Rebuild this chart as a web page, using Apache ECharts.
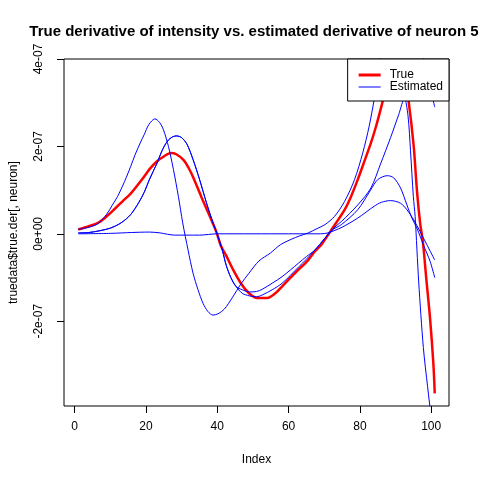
<!DOCTYPE html>
<html>
<head>
<meta charset="utf-8">
<script src="https://cdn.jsdelivr.net/npm/echarts@6/dist/echarts.min.js"></script>
<style>
  html, body { margin: 0; padding: 0; background: #fff; }
  #main { width: 480px; height: 480px; }
</style>
</head>
<body>
<div id="main"></div>
<script>
// values in units of 1e-07
var trueX = [1, 3, 6.5, 9, 11, 13.5, 15.7, 17.5, 19.4, 21, 23.1, 25, 27, 28.5, 30.5, 32, 33.2, 35.5, 37.9, 39.7, 41.1, 42.5, 44.3, 46.6, 48.9, 51.2, 54, 56.3, 58.2, 61.8, 65.5, 67.4, 69.2, 72, 75.7, 77.5, 79.4, 81, 83.1, 84.5, 85.8, 87.5, 89.5, 90.5, 91.8, 93, 93.7, 95.1, 96, 96.9, 97.7, 98.6, 99.7, 100.6, 101];
var trueY = [0.1, 0.15, 0.25, 0.4, 0.55, 0.75, 0.92, 1.1, 1.3, 1.48, 1.66, 1.77, 1.85, 1.82, 1.69, 1.5, 1.3, 0.85, 0.4, 0.05, -0.29, -0.5, -0.8, -1.13, -1.36, -1.47, -1.47, -1.36, -1.2, -0.9, -0.6, -0.4, -0.25, 0.09, 0.55, 0.85, 1.24, 1.6, 2.08, 2.45, 2.84, 3.35, 3.65, 3.71, 3.6, 3.3, 3.02, 2.0, 1.0, 0.25, -0.2, -1.0, -1.95, -2.95, -3.65];

// early-peak estimate
var estAX = [1, 4, 6.5, 9, 10.5, 12, 14, 15.7, 17, 18.5, 19.5, 20.8, 22.5, 23.8, 24.9, 26.3, 27.7, 29.1, 30.3, 31.8, 33.2, 34.6, 36, 37.4, 38.8, 40.2, 42, 44.3, 46.6, 48.9, 51.7, 54.9, 57.7, 60.9, 63, 65.5, 68, 70.2, 72.9, 75.7, 78.5, 80.8, 82.6, 84, 85, 86, 88, 92, 96, 99, 100, 101];
var estAY = [0.1, 0.15, 0.23, 0.45, 0.65, 0.85, 1.2, 1.54, 1.82, 2.1, 2.27, 2.5, 2.63, 2.55, 2.38, 2.0, 1.47, 0.85, 0.25, -0.37, -0.9, -1.28, -1.59, -1.78, -1.86, -1.83, -1.72, -1.45, -1.15, -0.9, -0.62, -0.44, -0.25, -0.12, -0.05, 0.02, 0.12, 0.21, 0.4, 0.74, 1.24, 1.85, 2.46, 3.07, 3.6, 4.2, 5.0, 5.4, 4.6, 3.6, 3.25, 2.9];

// two estimates sharing the same rise up to the first trough
var estLeftX = [1, 4, 7, 10, 13, 15.7, 18, 19.5, 21, 23, 24.5, 26, 27.5, 28.6, 30, 31.5, 33.2, 35, 37, 38.8, 40.2, 41.5, 42.5, 43.8, 45.2];
var estLeftY = [0.02, 0.03, 0.07, 0.13, 0.25, 0.44, 0.72, 0.95, 1.25, 1.6, 1.9, 2.12, 2.22, 2.24, 2.2, 2.05, 1.7, 1.25, 0.7, 0.25, -0.06, -0.4, -0.72, -1.0, -1.2];
var estBX = [47, 49, 51, 52.6, 55.4, 58.2, 62.8, 65, 67.4, 70, 72.5, 74.8, 79.4, 83, 85, 87.7, 89.5, 91.4, 93.2, 94.6, 96, 97.8, 99.7, 101];
var estBY = [-1.28, -1.33, -1.32, -1.27, -1.13, -0.98, -0.67, -0.52, -0.37, -0.12, 0.1, 0.21, 0.55, 1.0, 1.24, 1.33, 1.28, 1.05, 0.66, 0.36, 0.13, -0.25, -0.63, -1.0];
var estCX = [47, 49, 51, 52.6, 55.4, 58.2, 62.8, 65, 67.4, 70, 72.5, 74.8, 79.4, 83.1, 85.8, 88.6, 90.9, 92.5, 93.5, 94.2, 95, 95.5, 96.5, 97.8, 99, 100, 101];
var estCY = [-1.36, -1.42, -1.44, -1.4, -1.28, -1.13, -0.76, -0.58, -0.37, -0.12, 0.12, 0.28, 0.66, 1.05, 1.6, 2.2, 2.73, 3.1, 2.7, 1.9, 0.85, 0.4, -1.1, -2.6, -3.5, -4.2, -4.9];

// nearly flat estimate
var estDX = [1, 10, 16, 21, 24, 28, 35, 40, 50, 60, 66, 69, 71, 73, 75, 79.4, 84, 86, 88.6, 91.4, 93.2, 95.1, 96.9, 98.8, 101];
var estDY = [0.0, 0.01, 0.03, 0.04, 0.02, -0.03, -0.03, 0.0, 0.0, 0.0, 0.0, 0.0, 0.02, 0.08, 0.15, 0.36, 0.63, 0.72, 0.76, 0.7, 0.55, 0.32, 0.05, -0.25, -0.6];

var xTicks = [0, 20, 40, 60, 80, 100];
var yTicks = [-2, 0, 2, 4];
var yTickLabels = ['-2e-07', '0e+00', '2e-07', '4e-07'];

var FONT = '"Liberation Sans", Arial, sans-serif';

function pairs(xs, ys) {
  var out = [];
  for (var i = 0; i < xs.length; i++) out.push([xs[i], ys[i]]);
  return out;
}

function estSeries(data) {
  return {
    name: 'Estimated',
    type: 'line',
    data: data,
    symbol: 'none',
    smooth: 0.3,
    lineStyle: { color: '#0000ff', width: 1 },
    itemStyle: { color: '#0000ff' }
  };
}

var chart = echarts.init(document.getElementById('main'), null, { renderer: 'canvas' });

var option = {
  backgroundColor: '#ffffff',
  animation: false,
  title: {
    text: 'True derivative of intensity vs. estimated derivative of neuron 5',
    left: 254,
    top: 24,
    textAlign: 'center',
    padding: 0,
    textStyle: { fontFamily: FONT, fontSize: 15, fontWeight: 'bold', color: '#000' }
  },
  legend: {
    // flat bars stand in for the line samples of R's legend
    data: [
      { name: 'True', icon: 'path://M0,0H22V3H0Z' },
      { name: 'Estimated', icon: 'path://M0,0H22V1H0Z' }
    ],
    orient: 'vertical',
    right: 31,
    top: 59,
    backgroundColor: '#ffffff',
    borderColor: '#000',
    borderWidth: 1,
    borderRadius: 0,
    padding: [10, 6, 8, 11],
    itemGap: 0,
    itemWidth: 22,
    itemHeight: 12,
    textStyle: { fontFamily: FONT, fontSize: 12, color: '#000', padding: [0, 0, 0, 4] }
  },
  grid: {
    left: 59, right: 31, top: 59, bottom: 74,
    show: true, borderColor: '#000', borderWidth: 1, backgroundColor: 'transparent'
  },
  xAxis: {
    type: 'value',
    min: -3,
    max: 105,
    name: 'Index',
    nameLocation: 'middle',
    nameGap: 48,
    nameTextStyle: { fontFamily: FONT, fontSize: 12, color: '#000' },
    axisLine: { show: false, onZero: false },
    splitLine: { show: false },
    axisTick: { show: true, customValues: xTicks, length: 7, lineStyle: { color: '#000' } },
    axisLabel: { customValues: xTicks, margin: 15, fontFamily: FONT, fontSize: 12, color: '#000' }
  },
  yAxis: {
    type: 'value',
    min: -3.94,
    max: 4.0,
    name: 'truedata$true.der[, neuron]',
    nameLocation: 'middle',
    nameGap: 44,
    nameTextStyle: { fontFamily: FONT, fontSize: 12, color: '#000' },
    axisLine: { show: false, onZero: false },
    splitLine: { show: false },
    axisTick: { show: true, customValues: yTicks, length: 7, lineStyle: { color: '#000' } },
    axisLabel: {
      customValues: yTicks,
      rotate: 90,
      margin: 19,
      fontFamily: FONT,
      fontSize: 12,
      color: '#000',
      formatter: function (v) {
        var i = yTicks.indexOf(Math.round(v));
        return i >= 0 ? yTickLabels[i] : '';
      }
    }
  },
  series: [
    {
      name: 'True',
      type: 'line',
      data: pairs(trueX, trueY),
      symbol: 'none',
      smooth: 0.3,
      lineStyle: { color: '#ff0000', width: 2.5 },
      itemStyle: { color: '#ff0000' }
    },
    estSeries(pairs(estAX, estAY)),
    estSeries(pairs(estLeftX.concat(estBX), estLeftY.concat(estBY))),
    estSeries(pairs(estLeftX.concat(estCX), estLeftY.concat(estCY))),
    estSeries(pairs(estDX, estDY))
  ]
};

chart.setOption(option);
</script>
</body>
</html>
